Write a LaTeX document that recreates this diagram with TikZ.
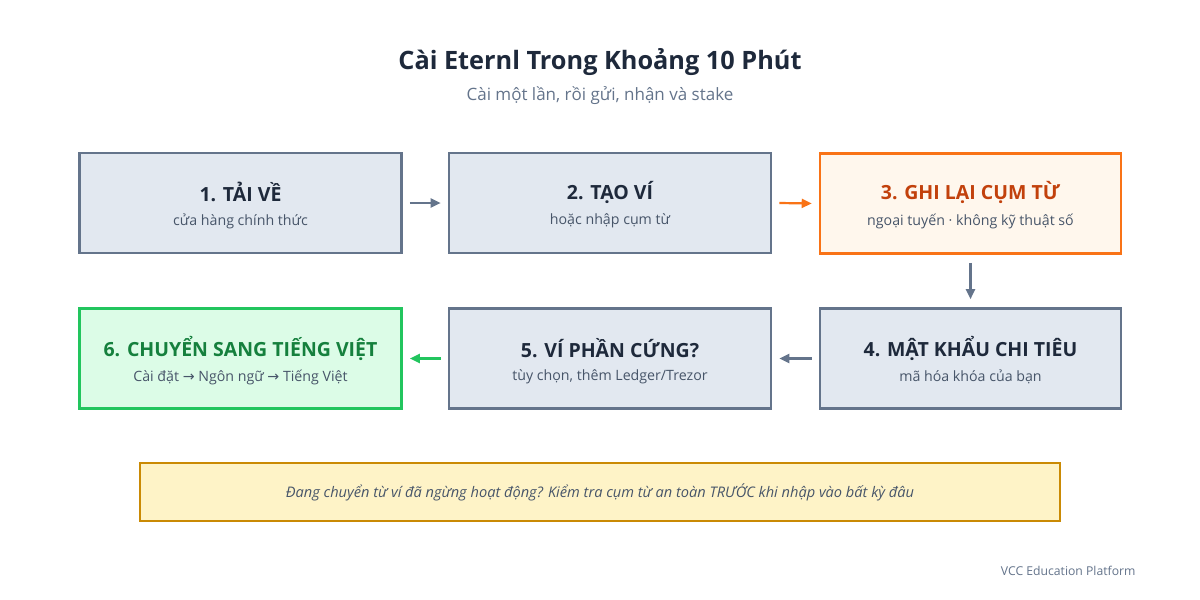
\documentclass[tikz,border=0pt]{standalone}
\usepackage{fontspec}
\setmainfont{Open Sans}
\newfontfamily\arrowfont{DejaVu Sans}
\usetikzlibrary{arrows.meta}
\definecolor{slatebg}{HTML}{E2E8F0}
\definecolor{slateln}{HTML}{64748B}
\definecolor{ink}{HTML}{1E293B}
\definecolor{subink}{HTML}{475569}
\definecolor{orbg}{HTML}{FFF7ED}
\definecolor{orln}{HTML}{F97316}
\definecolor{orink}{HTML}{C2410C}
\definecolor{grbg}{HTML}{DCFCE7}
\definecolor{grln}{HTML}{22C55E}
\definecolor{grink}{HTML}{15803D}
\definecolor{notebg}{HTML}{FEF3C7}
\definecolor{noteln}{HTML}{CA8A04}
\newcommand{\rarr}{{\arrowfont →}}
\begin{document}
\begin{tikzpicture}[x=1pt,y=-1pt,
  stepbox/.style={draw=slateln,fill=slatebg,line width=2.6pt,minimum width=322pt,minimum height=100pt,inner sep=0pt,align=center},
  narrowbox/.style={stepbox,minimum width=301pt},
  ttl/.style={font=\fontsize{19.5}{23}\selectfont\bfseries},
  sub/.style={font=\fontsize{14.2}{17}\selectfont,text=subink},
  conn/.style={-{Triangle[length=10pt,width=9pt]},line width=2.2pt,draw=slateln}
]
\useasboundingbox[fill=white] (0,0) rectangle (1200,600);
\node[font=\fontsize{25.3}{30}\selectfont\bfseries,text=ink] (title) at (600,62) {Cài Eternl Trong Khoảng 10 Phút};
\node[font=\fontsize{17}{20}\selectfont,text=slateln] (subtitle) at (600,96) {Cài một lần, rồi gửi, nhận và stake};

\node[stepbox] (b1) at (240.5,203) {};
\node[stepbox] (b2) at (610,203) {};
\node[narrowbox,draw=orln,fill=orbg] (b3) at (970.5,203.5) {};
\node[narrowbox] (b4) at (970.5,358.5) {};
\node[stepbox] (b5) at (610,358.5) {};
\node[stepbox,draw=grln,fill=grbg] (b6) at (240.5,358.5) {};

\node[ttl,text=ink] (t1) at (240.5,192) {1. TẢI VỀ};
\node[sub] (s1) at (240.5,221) {cửa hàng chính thức};
\node[ttl,text=ink] (t2) at (610,192) {2. TẠO VÍ};
\node[sub] (s2) at (610,221) {hoặc nhập cụm từ};
\node[ttl,text=orink] (t3) at (970.5,192) {3. GHI LẠI CỤM TỪ};
\node[sub] (s3) at (970.5,221) {ngoại tuyến · không kỹ thuật số};
\node[ttl,text=ink] (t4) at (970.5,348) {4. MẬT KHẨU CHI TIÊU};
\node[sub] (s4) at (970.5,377) {mã hóa khóa của bạn};
\node[ttl,text=ink] (t5) at (610,348) {5. VÍ PHẦN CỨNG?};
\node[sub] (s5) at (610,377) {tùy chọn, thêm Ledger/Trezor};
\node[ttl,text=grink] (t6) at (240.5,348) {6. CHUYỂN SANG TIẾNG VIỆT};
\node[sub] (s6) at (240.5,377) {Cài đặt \rarr{} Ngôn ngữ \rarr{} Tiếng Việt};

\draw[conn] ([xshift=7pt]b1.east) -- ([xshift=-7pt]b2.west);
\draw[conn,draw=orln] ([xshift=7pt]b2.east) -- ([xshift=-7pt]b3.west);
\draw[conn] ([yshift=-8pt]b3.south) -- ([yshift=8pt]b4.north);
\draw[conn] ([xshift=-7pt]b4.west) -- ([xshift=7pt]b5.east);
\draw[conn,draw=grln] ([xshift=-7pt]b5.west) -- ([xshift=7pt]b6.east);

\node[draw=noteln,fill=notebg,line width=2.6pt,minimum width=920pt,minimum height=58pt,inner sep=0pt,
  font=\fontsize{14.6}{17}\selectfont\itshape,text=subink] (note) at (600,492) {Đang chuyển từ ví đã ngừng hoạt động? Kiểm tra cụm từ an toàn TRƯỚC khi nhập vào bất kỳ đâu};

\node[anchor=east,font=\fontsize{12.2}{14}\selectfont,text=slateln] (footer) at (1139,571) {VCC Education Platform};
\end{tikzpicture}
\end{document}
